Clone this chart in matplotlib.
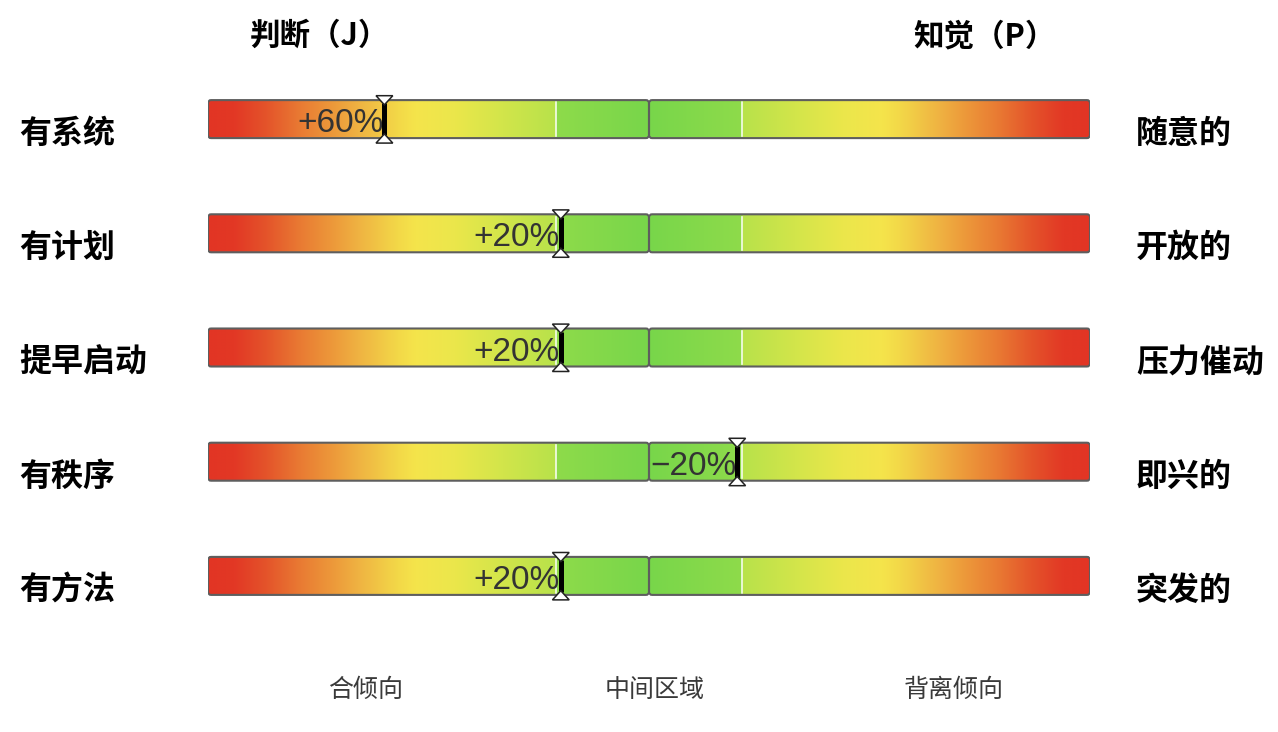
import numpy as np
import matplotlib.pyplot as plt
from matplotlib.colors import LinearSegmentedColormap
from matplotlib.patches import FancyBboxPatch

plt.rcParams['font.family'] = ['Noto Sans CJK SC', 'DejaVu Sans']

# data
left_traits = ['有系统', '有计划', '提早启动', '有秩序', '有方法']
right_traits = ['随意的', '开放的', '压力催动', '即兴的', '突发的']
scores = [60, 20, 20, -20, 20]          # + leans J (left), - leans P (right)
titles = ['判断（J）', '知觉（P）']
zone_labels = ['合倾向', '中间区域', '背离倾向']
zone_edge = 21                           # middle zone boundary, %

# gradient from outer end (0) to centre (1)
stops = [(0.00, '#e23524'), (0.06, '#e23825'), (0.13, '#e4532a'),
         (0.21, '#e97b33'), (0.29, '#ed9c3b'), (0.34, '#efb242'),
         (0.43, '#f3d848'), (0.47, '#f5e44b'), (0.56, '#ebe74b'),
         (0.67, '#d2e54a'), (0.788, '#b8e24a'), (0.792, '#8edb4a'),
         (1.00, '#78d64a')]
cmap = LinearSegmentedColormap.from_list('jp', stops, N=512)

fig = plt.figure(figsize=(12.78, 7.32), dpi=100)
ax = fig.add_axes([208 / 1278, (732 - 633) / 732, 882 / 1278, 571 / 732])
ax.set_xlim(100, -100)
ax.set_ylim(len(scores) - 0.5, -0.5)
ax.axis('off')

# pixels per unit, for rounded corners
ppx = 882 / 200
ppy = 571 / len(scores)
bar_h = 38 / ppy
grad = np.linspace(0, 1, 512).reshape(1, -1)

for i, v in enumerate(scores):
    y0 = i - bar_h / 2
    for x0, x1, g in [(100, 0, grad), (0, -100, grad[:, ::-1])]:
        lo, hi = min(x0, x1), max(x0, x1)
        box = FancyBboxPatch((lo, y0), hi - lo, bar_h,
                             boxstyle='round,pad=0,rounding_size=0.7',
                             mutation_aspect=ppx / ppy,
                             fc='none', ec='#5e5e5e', lw=1.5, zorder=3)
        ax.add_patch(box)
        im = ax.imshow(g, cmap=cmap, extent=[x0, x1, y0 + bar_h, y0],
                       aspect='auto', interpolation='bilinear', zorder=1)
        im.set_clip_path(box)
    # middle zone marks
    for z in (zone_edge, -zone_edge):
        ax.plot([z, z], [y0 + 0.02, y0 + bar_h - 0.02], color='white',
                lw=1.2, alpha=0.9, zorder=2)
    # hourglass marker
    ax.plot([v, v], [i - 0.14, i + 0.14], color='black', lw=3.6,
            solid_capstyle='butt', zorder=5)
    ax.fill([v - 1.9, v + 1.9, v], [i - 0.205, i - 0.205, i - 0.125],
            fc='white', ec='#222222', lw=1.1, zorder=6, clip_on=False)
    ax.fill([v - 1.9, v + 1.9, v], [i + 0.21, i + 0.21, i + 0.13],
            fc='white', ec='#222222', lw=1.1, zorder=6, clip_on=False)
    lab = f'+{v}%' if v > 0 else f'\u2212{abs(v)}%'
    ax.text(v + 0.2, i + 0.04, lab, ha='right', va='center', fontsize=24,
            color='#333333', family=['Liberation Sans', 'DejaVu Sans'],
            zorder=4)

# side labels
for i, (lt, rt) in enumerate(zip(left_traits, right_traits)):
    yf = 1 - (119 + 15 + i * 114.25) / 732
    fig.text(19 / 1278, yf, lt, ha='left', va='center', fontsize=23,
             fontweight='bold', color='black')
    fig.text(1136 / 1278, yf, rt, ha='left', va='center', fontsize=23,
             fontweight='bold', color='black')

fig.text(250 / 1278, 1 - 36 / 732, titles[0], ha='left', va='center',
         fontsize=22, fontweight='bold')
fig.text(913 / 1278, 1 - 36 / 732, titles[1], ha='left', va='center',
         fontsize=22, fontweight='bold')

for xc, t in zip([366, 655, 954], zone_labels):
    fig.text(xc / 1278, 1 - 690 / 732, t, ha='center', va='center',
             fontsize=18, fontweight='medium', color='#3a3a3a')

fig.savefig('out.png', dpi=100, facecolor='white')
